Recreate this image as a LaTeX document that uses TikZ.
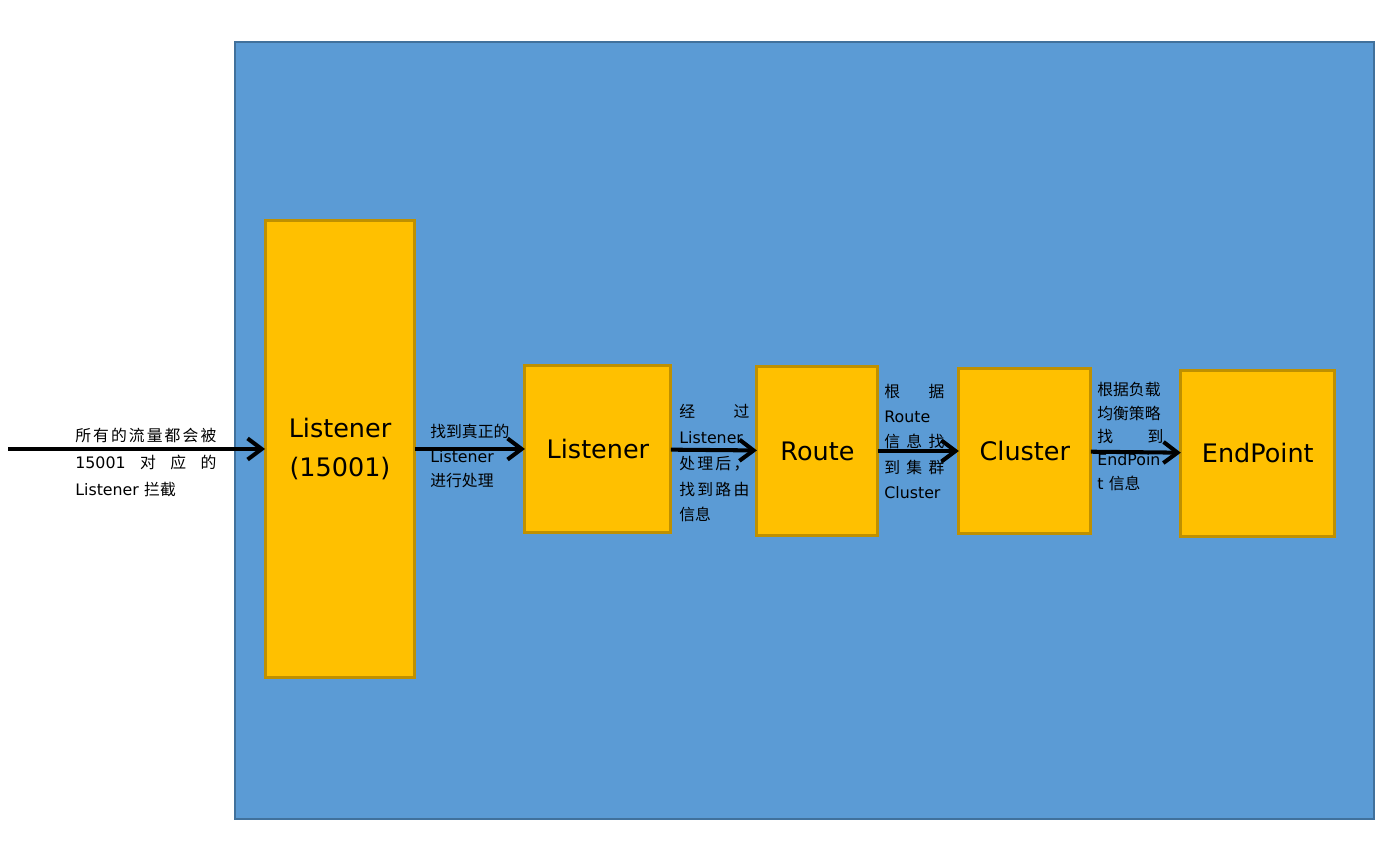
\documentclass[tikz,border=0pt]{standalone}
\usepackage{fontspec}
\setmainfont{DejaVu Sans}
\newfontfamily\cjk{Noto Sans CJK SC}
\newcommand{\zh}[1]{{\cjk #1}}
\usetikzlibrary{arrows.meta,positioning}

\definecolor{bgblue}{HTML}{5B9BD5}
\definecolor{bgedge}{HTML}{41719C}
\definecolor{boxfill}{HTML}{FFC000}
\definecolor{boxedge}{HTML}{BF9000}

\begin{document}
\begin{tikzpicture}[x=0.02cm,
            y=-0.02cm,
            box/.style={rectangle, draw=boxedge, fill=boxfill, line width=1.7pt,
                        inner sep=0pt, outer sep=0pt, align=center,
                        font=\fontsize{14.5}{22}\selectfont},
            lbl/.style={inner sep=0pt, anchor=north west, align=left,
                        font=\fontsize{9}{14}\selectfont},
            flow/.style={-{Straight Barb[length=8pt,width=12pt]}, line width=2.3pt}]

        \useasboundingbox (0,0) rectangle (1393,854);
        \draw[fill=bgblue, draw=bgedge, line width=1.4pt] (235,42) rectangle (1374,819);

        \node[box, minimum width=3cm,    minimum height=9.16cm] (lis15001) at (340,449)            {Listener\\(15001)};
        \node[box, minimum width=2.92cm, minimum height=3.34cm] (lis)   [right=2.2cm of lis15001]   {Listener};
        \node[box, minimum width=2.42cm, minimum height=3.38cm] (route) [right=1.72cm of lis, yshift=-0.04cm] {Route};
        \node[box, minimum width=2.64cm, minimum height=3.3cm]  (clus)  [right=1.62cm of route]     {Cluster};
        \node[box, minimum width=3.08cm, minimum height=3.32cm] (endp)  [right=1.8cm of clus, yshift=-0.05cm] {EndPoint};

        % labels on the arrows
        \node[lbl, text width=2.82cm, font=\fontsize{9}{15.4}\selectfont] (txtin) at (75,428)
            {\zh{所}\hfill\zh{有}\hfill\zh{的}\hfill\zh{流}\hfill\zh{量}\hfill\zh{都}\hfill\zh{会}\hfill\zh{被}\\
             15001\hfill\zh{对}\hfill\zh{应}\hfill\zh{的}\\
             Listener \zh{拦截}};
        \node[lbl, font=\fontsize{9}{13.9}\selectfont] (txtlis) at (430,424)
            {\zh{找到真正的}\\Listener\\\zh{进行处理}};
        \node[lbl, text width=1.4cm, font=\fontsize{9}{14.7}\selectfont] (txtroute) at (679,404)
            {\zh{经}\hfill\zh{过}\\Listener\\
             \zh{处}\hfill\zh{理}\hfill\zh{后}\hfill\zh{，}\\
             \zh{找}\hfill\zh{到}\hfill\zh{路}\hfill\zh{由}\\\zh{信息}};
        \node[lbl, text width=1.2cm, font=\fontsize{9}{14.3}\selectfont] (txtclus) at (884,384)
            {\zh{根}\hfill\zh{据}\\Route\\
             \zh{信}\hfill\zh{息}\hfill\zh{找}\\
             \zh{到}\hfill\zh{集}\hfill\zh{群}\\Cluster};
        \node[lbl, text width=1.32cm, font=\fontsize{9}{13.3}\selectfont] (txtendp) at (1097,382)
            {\zh{根据负载}\\\zh{均衡策略}\\\zh{找}\hfill\zh{到}\\EndPoin\\t \zh{信息}};

        \coordinate (src) at (8,449);
        \draw[flow] (src)      -- (lis15001);
        \draw[flow] (lis15001) -- (lis);
        \draw[flow] (lis)      -- (route);
        \draw[flow] (route)    -- (clus);
        \draw[flow] (clus)     -- (endp);

\end{tikzpicture}
\end{document}
